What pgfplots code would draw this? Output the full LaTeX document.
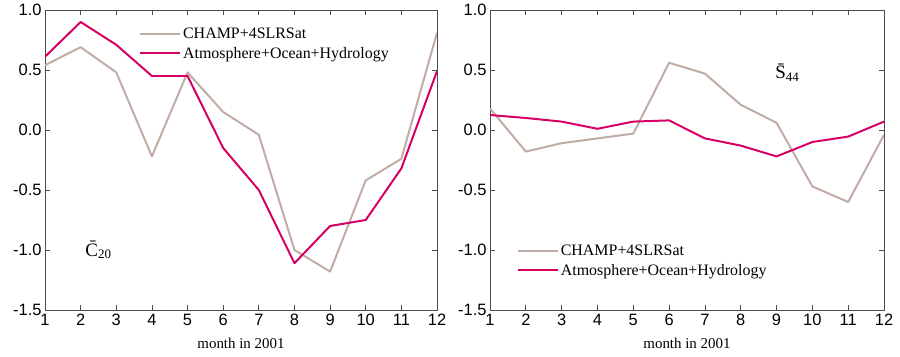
\documentclass[border=0pt]{standalone}
\usepackage{pgfplots}
\pgfplotsset{compat=1.18}
\usepackage{fontspec}
\setmainfont{Liberation Serif}
\newfontfamily\ticksf{Liberation Sans}
\definecolor{champ}{RGB}{192,172,164}
\definecolor{aoh}{RGB}{214,0,100}
\pgfplotsset{
  myax/.style={
    scale only axis, width=392bp, height=300bp,
    xmin=1, xmax=12, ymin=-1.5, ymax=1.0,
    xtick={1,...,12}, ytick={-1.5,-1,-0.5,0,0.5,1},
    yticklabel style={/pgf/number format/fixed, /pgf/number format/fixed zerofill, /pgf/number format/precision=1},
    /pgf/number format/assume math mode=true,
    tick label style={font=\fontsize{16.5}{16.5}\selectfont\ticksf},
    xticklabel style={yshift=-1bp},
    tick align=inside, major tick length=5bp,
    axis line style={black!70, line width=0.9pt},
    tick style={black!70, line width=0.8pt},
    xlabel={month in 2001},
    xlabel style={font=\fontsize{15}{15}\selectfont, yshift=-5bp},
    legend cell align=left,
    legend style={draw=none, fill=none, font=\fontsize{16}{18}\selectfont, row sep=3.5bp},
    legend image code/.code={\draw[#1] (0cm,0cm) -- (40bp,0cm);},
    every axis plot/.append style={line width=2pt, line join=round},
    clip=true,
  }
}
\begin{document}
\begin{tikzpicture}
\path[use as bounding box] (-45bp,-47bp) rectangle (855bp,310bp);
\begin{axis}[myax, at={(0,0)}, anchor=south west,
  legend style={at={(0.232,0.955)}, anchor=north west}]
\addplot[champ] coordinates {(1,0.54) (2,0.69) (3,0.48) (4,-0.22) (5,0.48) (6,0.15) (7,-0.04) (8,-1.0) (9,-1.18) (10,-0.42) (11,-0.24) (12,0.81)};
\addlegendentry{CHAMP+4SLRSat}
\addplot[aoh] coordinates {(1,0.61) (2,0.90) (3,0.71) (4,0.45) (5,0.45) (6,-0.15) (7,-0.50) (8,-1.11) (9,-0.80) (10,-0.75) (11,-0.32) (12,0.49)};
\addlegendentry{Atmosphere+Ocean+Hydrology}
\node[font=\fontsize{19}{19}\selectfont] at (axis cs:2.5,-1.0) {\=C\textsubscript{\fontsize{13}{13}\selectfont 20}};
\end{axis}
\begin{axis}[myax, at={(445bp,0)}, anchor=south west, width=394bp,
  legend style={at={(0.06,0.232)}, anchor=north west}]
\addplot[champ] coordinates {(1,0.18) (2,-0.18) (3,-0.11) (4,-0.07) (5,-0.03) (6,0.56) (7,0.47) (8,0.21) (9,0.06) (10,-0.47) (11,-0.60) (12,-0.04)};
\addlegendentry{CHAMP+4SLRSat}
\addplot[aoh] coordinates {(1,0.125) (2,0.10) (3,0.07) (4,0.01) (5,0.07) (6,0.08) (7,-0.07) (8,-0.13) (9,-0.22) (10,-0.10) (11,-0.055) (12,0.07)};
\addlegendentry{Atmosphere+Ocean+Hydrology}
\node[font=\fontsize{19}{19}\selectfont] at (axis cs:9.3,0.48) {\=S\textsubscript{\fontsize{13}{13}\selectfont 44}};
\end{axis}
\end{tikzpicture}
\end{document}
